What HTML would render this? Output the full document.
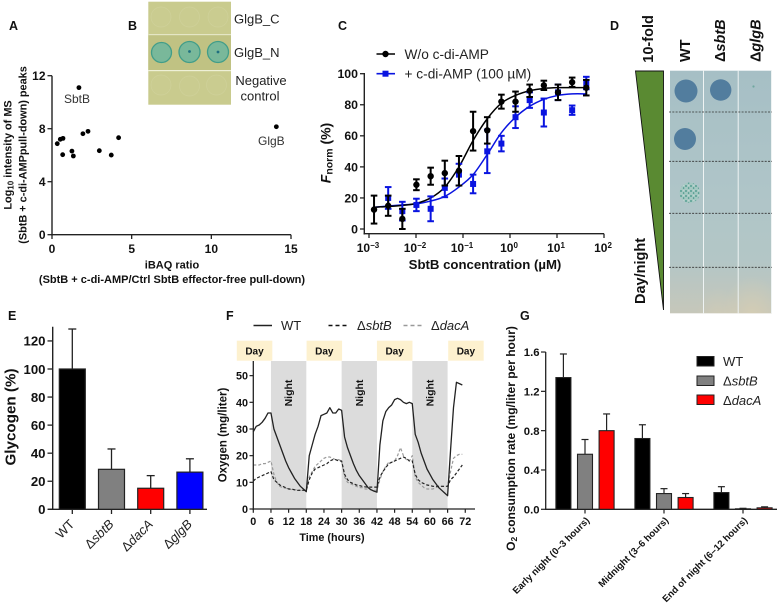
<!DOCTYPE html>
<html lang="en">
<head>
<meta charset="utf-8">
<title>Multi-panel figure</title>
<style>
html,body{margin:0;padding:0;background:#fff;}
svg{display:block;font-family:"Liberation Sans",Arial,sans-serif;filter:blur(0.3px);}
.b{font-weight:bold;}
.i{font-style:italic;}
</style>
</head>
<body>
<svg id="fig" xmlns="http://www.w3.org/2000/svg" width="780" height="603" viewBox="0 0 780 603">
<defs>
<linearGradient id="plateGrad" x1="0" y1="0" x2="0" y2="1">
<stop offset="0" stop-color="#a6bfc5"/>
<stop offset="0.5" stop-color="#afc5c8"/>
<stop offset="0.78" stop-color="#b3c6c6"/>
<stop offset="1" stop-color="#c6c7ba"/>
</linearGradient>
<radialGradient id="glareGrad">
<stop offset="0" stop-color="#ddd0b0" stop-opacity="0.6"/>
<stop offset="1" stop-color="#ddd0b0" stop-opacity="0"/>
</radialGradient>
<clipPath id="plateClip"><rect x="670" y="70.7" width="102" height="242.6"/></clipPath>
<pattern id="speckle" width="5" height="5" patternUnits="userSpaceOnUse">
<rect width="5" height="5" fill="#a5c8c2"/>
<circle cx="1" cy="1" r="0.9" fill="#3f9384"/>
<circle cx="3.6" cy="3" r="0.8" fill="#3f9384"/>
<circle cx="3.8" cy="0.6" r="0.5" fill="#d5e4df"/>
</pattern>
</defs>
<rect width="780" height="603" fill="#fff"/>

<g class="b" font-size="12.5" fill="#111">
<text x="9" y="30">A</text>
<text x="128" y="30">B</text>
<text x="338" y="30">C</text>
<text x="610" y="30">D</text>
<text x="8" y="320">E</text>
<text x="226" y="320">F</text>
<text x="520" y="320">G</text>
</g>

<!-- Panel A static labels -->
<g fill="#111">
<text class="b" font-size="10.9" transform="translate(11.5,155) rotate(-90)" text-anchor="middle">Log<tspan font-size="8" dy="2">10</tspan><tspan dy="-2"> intensity of MS</tspan></text>
<text class="b" font-size="10.9" transform="translate(26.5,155) rotate(-90)" text-anchor="middle">(SbtB + c-di-AMPpull-down) peaks</text>
<text class="b" font-size="11" x="172" y="268.5" text-anchor="middle">iBAQ ratio</text>
<text class="b" font-size="11" x="172" y="283" text-anchor="middle">(SbtB + c-di-AMP/Ctrl SbtB effector-free pull-down)</text>
<text x="64" y="103" font-size="12" fill="#333">SbtB</text>
<text x="258" y="145" font-size="12" fill="#333">GlgB</text>
</g>
<g id="panelA"></g>

<!-- Panel B -->
<g>
<rect x="148.3" y="1.7" width="82.7" height="103" fill="#c9cb8e"/>
<rect x="148.3" y="34" width="82.7" height="36" fill="#c0c283"/>
<rect x="148.3" y="34" width="82.7" height="1.2" fill="#e4e6c4"/>
<rect x="148.3" y="70" width="82.7" height="1.2" fill="#eef0d6"/>
<g fill="#cacc90" stroke="#cfd19a" stroke-width="0.7">
<circle cx="161" cy="17" r="10"/><circle cx="189.5" cy="17" r="10"/><circle cx="218" cy="17" r="10"/>
</g>
<g fill="#79b89a" stroke="#419d89" stroke-width="1.3">
<circle cx="161.5" cy="52.5" r="10"/><circle cx="189.5" cy="52" r="10.5"/><circle cx="218" cy="52" r="10.5"/>
</g>
<circle cx="189.5" cy="51.5" r="1.4" fill="#1f6f80"/>
<circle cx="218" cy="52" r="1.4" fill="#1f6f80"/>
<g fill="#cacc90" stroke="#cfd19a" stroke-width="0.7">
<circle cx="161" cy="85" r="10"/><circle cx="189.5" cy="86" r="10"/><circle cx="216.5" cy="85" r="10"/>
</g>
<g font-size="13" fill="#222">
<text x="234" y="23.5">GlgB_C</text>
<text x="234" y="57">GlgB_N</text>
<text x="261" y="85" text-anchor="middle">Negative</text>
<text x="260" y="100.5" text-anchor="middle">control</text>
</g>
</g>

<!-- Panel C static labels -->
<g fill="#111">
<text class="b" font-size="14" transform="translate(330.5,153) rotate(-90)" text-anchor="middle"><tspan class="i">F</tspan><tspan font-size="10.5" dy="2">norm</tspan><tspan dy="-2"> (%)</tspan></text>
<text class="b" font-size="13.2" x="485" y="269" text-anchor="middle">SbtB concentration (µM)</text>
<line x1="376.5" x2="395" y1="54" y2="54" stroke="#000" stroke-width="1.6"/>
<circle cx="385.5" cy="54" r="3.2" fill="#000"/>
<text x="404.5" y="58.8" font-size="13.7" fill="#222">W/o c-di-AMP</text>
<line x1="376.5" x2="395" y1="73.7" y2="73.7" stroke="#0a14e0" stroke-width="1.6"/>
<rect x="382.5" y="70.7" width="6" height="6" fill="#0a14e0"/>
<text x="404.5" y="78.5" font-size="13.7" fill="#222">+ c-di-AMP (100 µM)</text>
</g>
<g id="panelC"></g>

<!-- Panel D -->
<g>
<polygon points="635.5,71 663.5,71 663.5,310" fill="#5a8a32" stroke="#111" stroke-width="0.9"/>
<rect x="670" y="70.7" width="102" height="242.6" fill="url(#plateGrad)"/>
<g clip-path="url(#plateClip)">
<ellipse cx="752" cy="316" rx="30" ry="40" fill="url(#glareGrad)"/>
<ellipse cx="718" cy="318" rx="22" ry="30" fill="url(#glareGrad)" opacity="0.6"/>
</g>
<rect x="703" y="70.7" width="1" height="242.6" fill="#eef3f3"/>
<rect x="737.7" y="70.7" width="1" height="242.6" fill="#eef3f3"/>
<rect x="771" y="70.7" width="1" height="242.6" fill="#eef3f3"/>
<circle cx="686" cy="91" r="11.5" fill="#527d9e"/>
<circle cx="720.7" cy="90" r="10.7" fill="#527d9e"/>
<circle cx="685" cy="139" r="11" fill="#527d9e"/>
<circle cx="689.7" cy="192.7" r="10.2" fill="url(#speckle)"/>
<circle cx="753.5" cy="86.5" r="1.1" fill="#6fa79f"/>
<g stroke="#333" stroke-width="0.8" stroke-dasharray="2 1.3">
<line x1="669" x2="772" y1="112" y2="112"/>
<line x1="669" x2="772" y1="161.3" y2="161.3"/>
<line x1="669" x2="772" y1="213.3" y2="213.3"/>
<line x1="669" x2="772" y1="267.3" y2="267.3"/>
</g>
<g class="b" font-size="14.5" fill="#111">
<text transform="translate(653,62.7) rotate(-90)">10-fold</text>
<text transform="translate(690,62) rotate(-90)">WT</text>
<text transform="translate(725,62) rotate(-90)">Δ<tspan class="i">sbtB</tspan></text>
<text transform="translate(760.7,62) rotate(-90)">Δ<tspan class="i">glgB</tspan></text>
<text transform="translate(645,304) rotate(-90)">Day/night</text>
</g>
</g>

<!-- Panel E static labels -->
<g fill="#111">
<text class="b" font-size="15.2" transform="translate(15.7,417) rotate(-90)" text-anchor="middle">Glycogen (%)</text>
</g>
<g id="panelE"></g>

<!-- Panel F static labels -->
<g fill="#222">
<line x1="253.5" x2="272" y1="325.5" y2="325.5" stroke="#222" stroke-width="1.6"/>
<text x="281" y="330" font-size="13">WT</text>
<line x1="328.5" x2="348" y1="325.5" y2="325.5" stroke="#111" stroke-width="1.5" stroke-dasharray="4 3"/>
<text x="357" y="330" font-size="13">Δ<tspan class="i">sbtB</tspan></text>
<line x1="403.5" x2="423" y1="325.5" y2="325.5" stroke="#999" stroke-width="1.5" stroke-dasharray="4 3"/>
<text x="431" y="330" font-size="13">Δ<tspan class="i">dacA</tspan></text>
<text class="b" font-size="11.5" transform="translate(226.5,435) rotate(-90)" text-anchor="middle" fill="#111">Oxygen (mg/liter)</text>
<text class="b" font-size="10.8" x="332" y="541" text-anchor="middle" fill="#111">Time (hours)</text>
</g>
<g id="panelF"></g>

<!-- Panel G static labels -->
<g fill="#111">
<text class="b" font-size="12" transform="translate(515,438.5) rotate(-90)" text-anchor="middle">O<tspan font-size="8.5" dy="2">2</tspan><tspan dy="-2"> consumption rate (mg/liter per hour)</tspan></text>
<rect x="697" y="356.5" width="17" height="9.5" fill="#000" stroke="#222"/>
<rect x="697" y="376" width="17" height="9.5" fill="#808080" stroke="#222"/>
<rect x="697" y="395" width="17" height="9.5" fill="#f00" stroke="#222"/>
<g font-size="13" fill="#222">
<text x="723" y="365.8">WT</text>
<text x="723" y="385.3">Δ<tspan class="i">sbtB</tspan></text>
<text x="723" y="404.8">Δ<tspan class="i">dacA</tspan></text>
</g>
</g>
<g id="panelG"></g>

<script>
// ---- Panel A data ----
const scatterRatio = [1.69,0.33,0.52,0.69,0.67,1.25,1.34,1.94,2.26,2.97,3.72,4.18,14.08];
const scatterIntensity = [11.1,6.87,7.2,7.27,6.04,6.31,5.94,7.62,7.8,6.34,6.01,7.32,8.15];
const scatterXTicks = [0,5,10,15];
const scatterYTicks = [0,4,8,12];

// ---- Panel C data ----
const doseUM = [0.00128,0.00256,0.00512,0.0102,0.0205,0.041,0.082,0.164,0.328,0.656,1.31,2.62,5.25,10.5,21,42];
const blackMean = [12.5,15,6.5,28.5,34,36,37.5,63,63.5,82,82,89,92.5,88,94.5,91];
const blackErr = [9,6.5,6.5,3.5,5.5,8,9.5,12.5,8.5,4.5,6.5,4,3,5,3,5];
const blueMean = [null,20,11.5,15.5,13,26.5,35,29,50,55,72,83,75,88,76.5,94];
const blueErr = [null,7,6,4,8,6,7,6,14,5,7,5,9,5,3,4];
const blackFit = [14,14.5,15.2,16.5,20,27,40,57,71,81,86,89,90.5,91,91,91];
const blueFit = [14,14.8,15.5,16.2,18,21,27,35,48,62,72,79,83.5,86,87,87];
const doseYTicks = [0,20,40,60,80,100];
const doseXExponents = [-3,-2,-1,0,1,2];

// ---- Panel E data ----
const glycogenStrains = [["","WT"],["Δ","sbtB"],["Δ","dacA"],["Δ","glgB"]];
const glycogenValues = [100,28.5,15,26.5];
const glycogenErrors = [28.5,14.5,9,9.5];
const glycogenColors = ["#000","#808080","#f00","#00f"];
const glycogenYTicks = [0,20,40,60,80,100,120];

// ---- Panel F data (one sample per hour) ----
const oxygenWT = [29,31,31.5,32.5,34,36,36,30,27,24,21,18,15.5,13.5,11.5,10,8.5,7.5,6.5,20,24,28,31,35,35.5,36,38,36,36,37.5,37,27,23,20,17,14.5,12.5,11,9.5,8,7.2,6.7,6.3,24,33,36.5,38,39,41,41.5,41,40,39.5,40,39.5,28,25,21,18,15,13,11,9.5,8,7,6,5,22,38,47.5,47,46.5];
const oxygenSbtB = [10.5,11.5,12,12.5,13,13.5,14,11,10,9,8.5,8,7.5,7.5,7.2,7,7,7,7,11,13.5,15,15.5,16,16.5,17,18,18.5,18.5,18,18,13,11,10,9.5,9,8.8,8.5,8.3,8.2,8.2,8.2,8.2,12,14,15.5,17,17.5,18,18.5,19,19.5,19,18,18,13,11,10,9.5,9,8.8,8.5,8.5,8.5,8.5,8.5,8.5,11,12,13.5,15,16.5];
const oxygenDacA = [16.5,16.5,16.5,17,17,17.5,18,13,10,8.5,8,7.8,7.5,7.3,7.2,7.2,7,7,7,12,14,16,17,18,19,19.5,19.5,19,18.5,18.5,18,12,10,9.5,9,8.5,8,8,7.5,7.5,7.2,7,7,11,14,16,17.5,17.5,18,20,23,20,18.5,18,20,12,10,9,8,7.5,7.5,7.5,8,8.5,8.5,8.5,8.5,14,19,20,20.5,20.5];
const oxygenYTicks = [0,10,20,30,40,50];
const oxygenXTicks = [0,6,12,18,24,30,36,42,48,54,60,66,72];
const nightStartHours = [6,30,54];
const nightLabelHours = [12,36,60];
const dayStartHours = [-5.6,18.1,42,66.2];

// ---- Panel G data ----
const phaseLabels = ["Early night (0–3 hours)","Midnight (3–6 hours)","End of night (6–12 hours)"];
const rateWT = [1.34,0.72,0.17];
const rateSbtB = [0.56,0.16,0.005];
const rateDacA = [0.8,0.12,0.015];
const rateErrWT = [0.24,0.14,0.06];
const rateErrSbtB = [0.15,0.05,0.005];
const rateErrDacA = [0.17,0.04,0.01];
const rateYTicks = [0,0.4,0.8,1.2,1.6];

// ---- helpers ----
const NS = "http://www.w3.org/2000/svg";
function mk(parent, tag, attrs, name, text) {
  const el = document.createElementNS(NS, tag);
  for (const k in attrs) el.setAttribute(k, attrs[k]);
  
  
  if (text !== undefined) el.textContent = text;
  parent.appendChild(el);
  return el;
}
function smooth(pts) {
  let d = "M" + pts[0][0].toFixed(2) + " " + pts[0][1].toFixed(2);
  for (let i = 0; i < pts.length - 1; i++) {
    const p0 = pts[Math.max(0, i - 1)], p1 = pts[i], p2 = pts[i + 1], p3 = pts[Math.min(pts.length - 1, i + 2)];
    const c1x = p1[0] + (p2[0] - p0[0]) / 6, c1y = p1[1] + (p2[1] - p0[1]) / 6;
    const c2x = p2[0] - (p3[0] - p1[0]) / 6, c2y = p2[1] - (p3[1] - p1[1]) / 6;
    d += "C" + c1x.toFixed(2) + " " + c1y.toFixed(2) + " " + c2x.toFixed(2) + " " + c2y.toFixed(2) + " " + p2[0].toFixed(2) + " " + p2[1].toFixed(2);
  }
  return d;
}

// ---- Panel A ----
(function () {
  const g = document.getElementById("panelA");
  const x = v => 52 + v * (291 - 52) / 15;
  const y = v => 234.7 - v * (234.7 - 75.7) / 12;
  mk(g, "line", {x1: 52, x2: 52, y1: 75.7, y2: 235.5, stroke: "#222", "stroke-width": 1.4}, "y-axis");
  mk(g, "line", {x1: 51.3, x2: 291, y1: 234.7, y2: 234.7, stroke: "#222", "stroke-width": 1.4}, "x-axis");
  scatterYTicks.forEach(t => {
    mk(g, "line", {x1: 47.5, x2: 52, y1: y(t), y2: y(t), stroke: "#222", "stroke-width": 1.3}, "y-tick");
    mk(g, "text", {x: 45.5, y: y(t) + 4.4, "text-anchor": "end", "font-size": 12, "font-weight": "bold", fill: "#111"}, "y-tick-label", t);
  });
  scatterXTicks.forEach(t => {
    mk(g, "line", {x1: x(t), x2: x(t), y1: 234.7, y2: 239, stroke: "#222", "stroke-width": 1.3}, "x-tick");
    mk(g, "text", {x: x(t), y: 253, "text-anchor": "middle", "font-size": 12, "font-weight": "bold", fill: "#111"}, "x-tick-label", t);
  });
  scatterRatio.forEach((v, i) => {
    mk(g, "circle", {cx: x(v), cy: y(scatterIntensity[i]), r: 2.4, fill: "#000"}, "scatter-point");
  });
})();

// ---- Panel C ----
(function () {
  const g = document.getElementById("panelC");
  const x = v => 369 + (Math.log10(v) + 3) * (604 - 369) / 5;
  const y = v => 229 - v * (229 - 73.7) / 100;
  mk(g, "line", {x1: 364.3, x2: 364.3, y1: 73, y2: 234.5, stroke: "#222", "stroke-width": 1.4}, "y-axis");
  mk(g, "line", {x1: 363.6, x2: 604, y1: 233.7, y2: 233.7, stroke: "#222", "stroke-width": 1.4}, "x-axis");
  doseYTicks.forEach(t => {
    mk(g, "line", {x1: 360, x2: 364.3, y1: y(t), y2: y(t), stroke: "#222", "stroke-width": 1.3}, "y-tick");
    mk(g, "text", {x: 358, y: y(t) + 4.4, "text-anchor": "end", "font-size": 12.3, "font-weight": "bold", fill: "#111"}, "y-tick-label", t);
  });
  doseXExponents.forEach((e, i) => {
    const px = x(Math.pow(10, e));
    mk(g, "line", {x1: px, x2: px, y1: 233.7, y2: 238, stroke: "#222", "stroke-width": 1.3}, "x-tick");
    const t = mk(g, "text", {x: px - 1, y: 252, "text-anchor": "middle", "font-size": 12, "font-weight": "bold", fill: "#111"}, "x-tick-label", "10");
    const s = document.createElementNS(NS, "tspan");
    s.setAttribute("font-size", "8");
    s.setAttribute("dy", "-4");
    s.textContent = String(e).replace("-", "−");
    t.appendChild(s);
  });
  mk(g, "path", {d: smooth(doseUM.map((d, i) => [x(d), y(blueFit[i])])), fill: "none", stroke: "#0a14e0", "stroke-width": 1.5}, "blue-fit-curve");
  mk(g, "path", {d: smooth(doseUM.map((d, i) => [x(d), y(blackFit[i])])), fill: "none", stroke: "#000", "stroke-width": 1.5}, "black-fit-curve");
  const errbar = (px, m, e, col, nm) => {
    mk(g, "line", {x1: px, x2: px, y1: y(m - e), y2: y(m + e), stroke: col, "stroke-width": 2}, nm);
    mk(g, "line", {x1: px - 3.3, x2: px + 3.3, y1: y(m + e), y2: y(m + e), stroke: col, "stroke-width": 2}, nm + "-cap");
    mk(g, "line", {x1: px - 3.3, x2: px + 3.3, y1: y(m - e), y2: y(m - e), stroke: col, "stroke-width": 2}, nm + "-cap");
  };
  doseUM.forEach((d, i) => {
    if (blueMean[i] === null) return;
    errbar(x(d), blueMean[i], blueErr[i], "#0a14e0", "blue-error-bar");
    mk(g, "rect", {x: x(d) - 3, y: y(blueMean[i]) - 3, width: 6, height: 6, fill: "#0a14e0"}, "blue-point");
  });
  doseUM.forEach((d, i) => {
    errbar(x(d), blackMean[i], blackErr[i], "#000", "black-error-bar");
    mk(g, "circle", {cx: x(d), cy: y(blackMean[i]), r: 3.2, fill: "#000"}, "black-point");
  });
})();

// ---- Panel E ----
(function () {
  const g = document.getElementById("panelE");
  const y = v => 509.3 - v * 1.403;
  const centers = i => 72.3 + i * 39.2;
  mk(g, "line", {x1: 52.7, x2: 52.7, y1: 326.7, y2: 510, stroke: "#222", "stroke-width": 1.4}, "y-axis");
  mk(g, "line", {x1: 48, x2: 207, y1: 509.3, y2: 509.3, stroke: "#222", "stroke-width": 1.4}, "x-axis");
  glycogenYTicks.forEach(t => {
    mk(g, "line", {x1: 47.5, x2: 52.7, y1: y(t), y2: y(t), stroke: "#222", "stroke-width": 1.3}, "y-tick");
    mk(g, "text", {x: 45.5, y: y(t) + 4.8, "text-anchor": "end", "font-size": 13.2, "font-weight": "bold", fill: "#111"}, "y-tick-label", t);
  });
  glycogenValues.forEach((v, i) => {
    const c = centers(i);
    const top = v + glycogenErrors[i];
    mk(g, "line", {x1: c, x2: c, y1: y(v), y2: y(top), stroke: "#222", "stroke-width": 1.3}, "error-bar");
    mk(g, "line", {x1: c - 4, x2: c + 4, y1: y(top), y2: y(top), stroke: "#222", "stroke-width": 1.3}, "error-bar-cap");
    mk(g, "rect", {x: c - 13, y: y(v), width: 26, height: y(0) - y(v), fill: glycogenColors[i], stroke: "#222", "stroke-width": 1.2}, "bar-" + glycogenStrains[i][1].toLowerCase());
    mk(g, "line", {x1: c, x2: c, y1: 509.3, y2: 514, stroke: "#222", "stroke-width": 1.3}, "x-tick");
    const t = mk(g, "text", {transform: "translate(" + (c + 3) + ",525) rotate(-45)", "text-anchor": "end", "font-size": 13, fill: "#222"}, "x-tick-label", glycogenStrains[i][0]);
    const s = document.createElementNS(NS, "tspan");
    if (glycogenStrains[i][0] !== "") s.setAttribute("font-style", "italic");
    s.textContent = glycogenStrains[i][1];
    t.appendChild(s);
  });
})();

// ---- Panel F ----
(function () {
  const g = document.getElementById("panelF");
  const x = v => 253.3 + v * 2.944;
  const y = v => 509 - v * 2.667;
  nightStartHours.forEach(h => {
    mk(g, "rect", {x: x(h), y: 361, width: x(h + 12) - x(h), height: 148, fill: "#dcdcdc"}, "night-shade");
  });
  nightLabelHours.forEach(h => {
    mk(g, "text", {transform: "translate(" + (x(h) + 3.5) + ",393) rotate(-90)", "text-anchor": "middle", "font-size": 10.5, "font-weight": "bold", fill: "#111"}, "night-label", "Night");
  });
  dayStartHours.forEach(h => {
    mk(g, "rect", {x: x(h), y: 340.7, width: 35.5, height: 20, fill: "#fdf1cf"}, "day-box");
    mk(g, "text", {x: x(h) + 17.7, y: 354.5, "text-anchor": "middle", "font-size": 10, "font-weight": "bold", fill: "#111"}, "day-label", "Day");
  });
  const line = (vals, attrs, nm) => {
    const pts = vals.map((v, i) => x(i).toFixed(2) + "," + y(v).toFixed(2)).join(" ");
    mk(g, "polyline", Object.assign({points: pts, fill: "none", "stroke-linejoin": "round"}, attrs), nm);
  };
  line(oxygenDacA, {stroke: "#9a9a9a", "stroke-width": 1.2, "stroke-dasharray": "3 2"}, "daca-line");
  line(oxygenSbtB, {stroke: "#222", "stroke-width": 1.2, "stroke-dasharray": "3 2"}, "sbtb-line");
  line(oxygenWT, {stroke: "#222", "stroke-width": 1.3}, "wt-line");
  mk(g, "line", {x1: 253.3, x2: 253.3, y1: 361, y2: 510, stroke: "#222", "stroke-width": 1.3}, "y-axis");
  mk(g, "line", {x1: 252.7, x2: 475, y1: 509, y2: 509, stroke: "#222", "stroke-width": 1.3}, "x-axis");
  oxygenYTicks.forEach(t => {
    mk(g, "line", {x1: 249.5, x2: 253.3, y1: y(t), y2: y(t), stroke: "#222", "stroke-width": 1.2}, "y-tick");
    mk(g, "text", {x: 248, y: y(t) + 4, "text-anchor": "end", "font-size": 10.8, "font-weight": "bold", fill: "#111"}, "y-tick-label", t);
  });
  oxygenXTicks.forEach(t => {
    mk(g, "line", {x1: x(t), x2: x(t), y1: 509, y2: 512.8, stroke: "#222", "stroke-width": 1.2}, "x-tick");
    mk(g, "text", {x: x(t), y: 525, "text-anchor": "middle", "font-size": 10.8, "font-weight": "bold", fill: "#111"}, "x-tick-label", t);
  });
})();

// ---- Panel G ----
(function () {
  const g = document.getElementById("panelG");
  const y = v => 509.3 - v * 98.3;
  const groupCenters = i => 585 + i * 79;
  mk(g, "line", {x1: 545.7, x2: 545.7, y1: 352, y2: 510, stroke: "#222", "stroke-width": 1.3}, "y-axis");
  mk(g, "line", {x1: 545, x2: 777, y1: 509.3, y2: 509.3, stroke: "#222", "stroke-width": 1.3}, "x-axis");
  rateYTicks.forEach(t => {
    mk(g, "line", {x1: 541, x2: 545.7, y1: y(t), y2: y(t), stroke: "#222", "stroke-width": 1.2}, "y-tick");
    mk(g, "text", {x: 539.5, y: y(t) + 4.2, "text-anchor": "end", "font-size": 11.3, "font-weight": "bold", fill: "#111"}, "y-tick-label", t.toFixed(1));
  });
  const series = [[rateWT, rateErrWT, "#000", -21.6, "wt"], [rateSbtB, rateErrSbtB, "#808080", 0, "sbtb"], [rateDacA, rateErrDacA, "#f00", 21.6, "daca"]];
  phaseLabels.forEach((label, i) => {
    const c = groupCenters(i);
    series.forEach(s => {
      const v = s[0][i], e = s[1][i], bx = c + s[3];
      mk(g, "line", {x1: bx, x2: bx, y1: y(v), y2: y(v + e), stroke: "#222", "stroke-width": 1.2}, "error-bar");
      mk(g, "line", {x1: bx - 3.5, x2: bx + 3.5, y1: y(v + e), y2: y(v + e), stroke: "#222", "stroke-width": 1.2}, "error-bar-cap");
      mk(g, "rect", {x: bx - 7.5, y: y(v), width: 15, height: y(0) - y(v), fill: s[2], stroke: "#222", "stroke-width": 1.1}, "bar-" + s[4]);
    });
    mk(g, "line", {x1: c, x2: c, y1: 509.3, y2: 513.5, stroke: "#222", "stroke-width": 1.2}, "x-tick");
    mk(g, "text", {transform: "translate(" + (c + 5) + ",521) rotate(-45)", "text-anchor": "end", "font-size": 9.6, "font-weight": "bold", fill: "#111"}, "x-tick-label", label);
  });
})();
</script>
</svg>
</body>
</html>
